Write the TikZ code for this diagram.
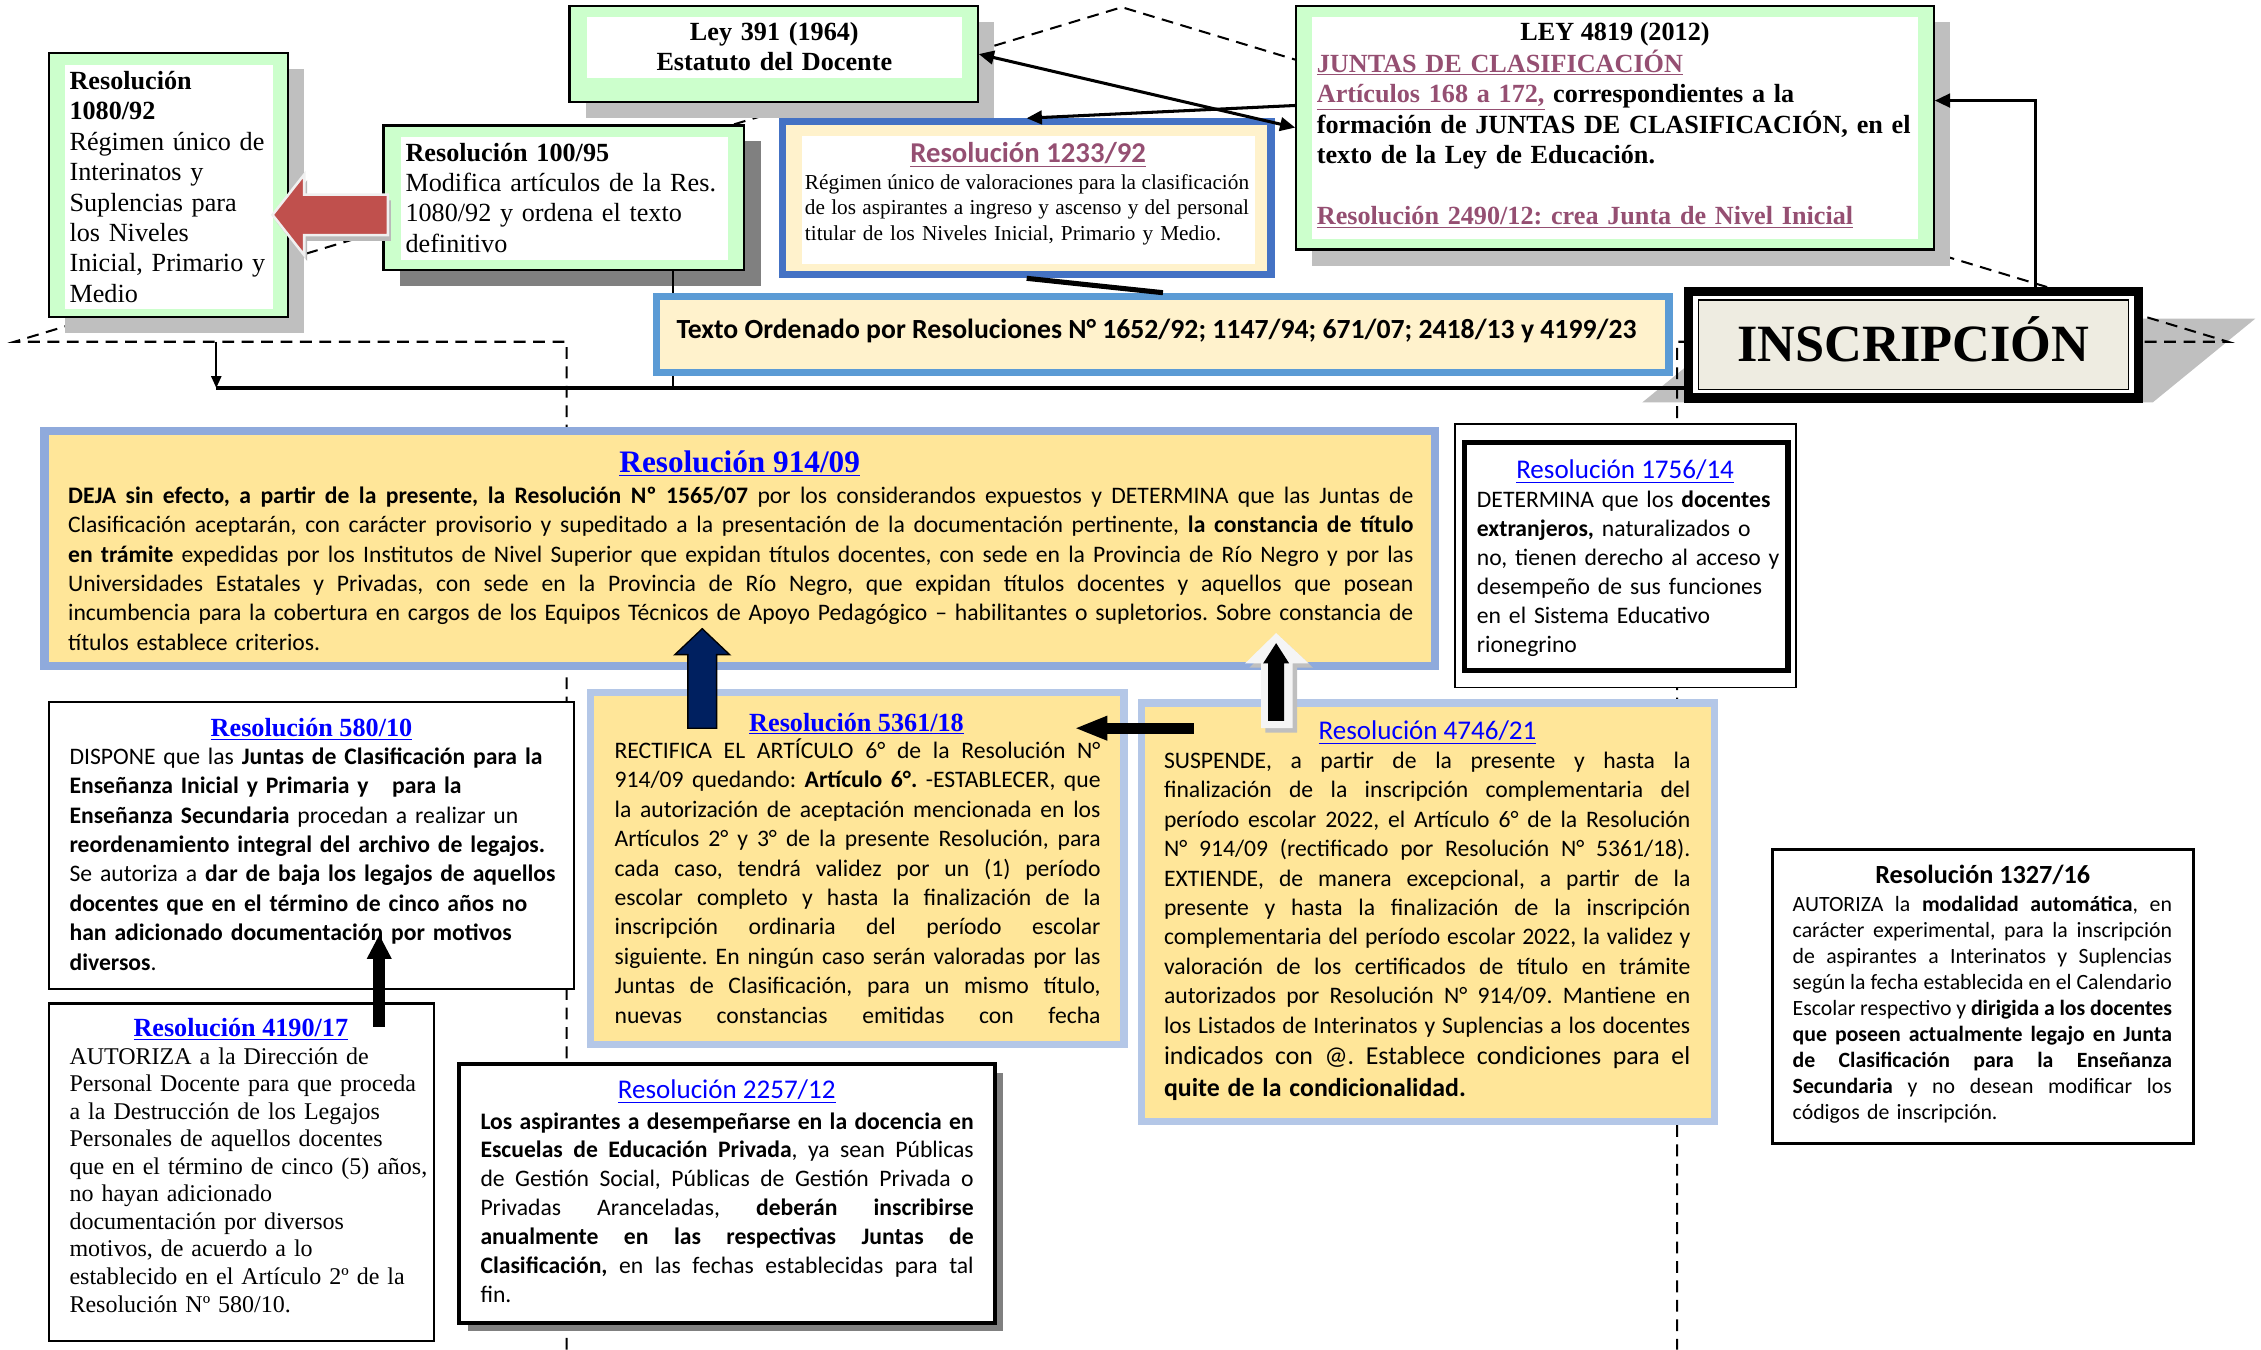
\documentclass[tikz,border=0pt]{standalone}
\usepackage{fontspec}
\setmainfont{Liberation Serif}
\newfontfamily\calibri{Carlito}
\usepackage{tikz}
\usetikzlibrary{calc}
\usetikzlibrary{arrows.meta,shadows}
\usetikzlibrary{fit,positioning}
\usepackage{xcolor}
\definecolor{verdeclaro}{RGB}{204,255,204}
\definecolor{crema}{RGB}{255,242,204}
\definecolor{oro}{RGB}{255,230,153}
\definecolor{celeste}{RGB}{180,199,231}
\definecolor{celesteosc}{RGB}{143,170,220}
\definecolor{azulmarco}{RGB}{68,114,196}
\definecolor{azultexto}{RGB}{91,155,213}
\definecolor{morado}{RGB}{149,79,114}
\definecolor{azul}{RGB}{0,0,255}
\definecolor{marino}{RGB}{0,32,96}
\definecolor{rojo}{RGB}{192,80,77}
\definecolor{beige}{RGB}{238,236,225}
\definecolor{sombra}{RGB}{191,191,191}
\definecolor{sombraosc}{RGB}{128,128,128}
\newcommand{\tam}[2]{\fontsize{#1}{#2}\selectfont}
\newcommand{\renglon}[1]{{\spaceskip=0.23em plus 3em minus 0.08em\xspaceskip=\spaceskip\makebox[\linewidth][s]{#1}}\par}
\newcommand{\enlace}[1]{\textcolor{azul}{\underline{#1}}}
\newcommand{\visto}[1]{\textcolor{morado}{\underline{#1}}}
\setlength{\parindent}{0pt}
\frenchspacing

\begin{document}
\begin{tikzpicture}[x=0.03cm,y=-0.03cm,
    marcoverde/.style={draw=black,line width=1.3pt,fill=verdeclaro,inner sep=0pt},
    interior/.style={fill=white,inner sep=0pt},
    marcooro/.style={draw=celeste,line width=4.3pt,fill=oro,inner sep=0pt},
    marconegro/.style={draw=black,line width=1.4pt,fill=white,inner sep=0pt},
    sombreado/.style={drop shadow={shadow xshift=#1,shadow yshift=-#1,fill=sombra,opacity=1}},
    cuerpo/.style={anchor=base west,inner sep=0pt},
    titulo/.style={anchor=base,inner sep=0pt},
    punteada/.style={dash pattern=on 7pt off 4.5pt,line width=1.2pt},
    conector/.style={line width=1.8pt},
    punta/.style={arrows={-Triangle[length=9pt,width=8pt]}},
    doble/.style={arrows={Triangle[length=9pt,width=8pt]-Triangle[length=9pt,width=8pt]}}]
\useasboundingbox (0,0) rectangle (1568,936);

\coordinate (techo) at (778,5);
\coordinate (aleroI) at (10,237);
\coordinate (aleroD) at (1545,237);
\coordinate (paredI) at (393,237);
\coordinate (paredD) at (1163,237);
\coordinate (suelo) at (0,936);

\fill[sombra] (1139,279) -- (1210,221) -- (1564,221) -- (1493,279) -- cycle;
\draw[punteada] (paredI |- suelo) -- (paredI) -- (aleroI) -- (techo) -- (aleroD) -- (paredD) -- (paredD |- suelo);

\node[marcoverde, sombreado=9.5pt, fit={(34,37) (200,220)}] (r1080) {};
\node[interior, fit={(45,45) (189,214)}] (r1080in) {};
\node[marcoverde, drop shadow={shadow xshift=10pt,shadow yshift=-9.5pt,fill=sombraosc,opacity=1}, fit={(266,87) (516,187)}] (r100) {};
\node[interior, fit={(278,95) (505,180)}] (r100in) {};
\node[marcoverde, sombreado=9.5pt, fit={(395,4) (678,71)}] (ley391) {};
\node[interior, fit={(407,12) (667,54)}] (ley391in) {};
\node[marcoverde, sombreado=9.5pt, fit={(899,4) (1341,173)}] (ley4819) {};
\node[interior, fit={(910,12) (1330,166)}] (ley4819in) {};
\node[draw=azulmarco, line width=4.3pt, fill=crema, inner sep=0pt, fit={(542.5,84.5) (881.5,190.5)}] (r1233) {};
\node[interior, fit={(556,94) (870,183)}] (r1233in) {};

\coordinate (lineaIzq) at (150,269);
\coordinate (bajaIzq) at (150,237);
\coordinate (p100) at ($(r100.south west)!0.8!(r100.south east)$);
\draw[line width=1.3pt] (p100) -- (p100 |- lineaIzq);

\node[draw=azultexto, line width=4.3pt, fill=crema, inner sep=0pt, fit={(455.5,205.5) (1157.5,258.5)}] (texto) {};
\node[titulo, font=\calibri\bfseries\tam{16.4}{18}] (textotxt) at (802,235) {Texto Ordenado por Resoluciones N° 1652/92; 1147/94; 671/07; 2418/13 y 4199/23};
\node[draw=black, line width=5.5pt, fill=white, inner sep=0pt, fit={(1171,202) (1483,276)}] (insc) {};
\node[draw=black, line width=0.9pt, fill=beige, inner sep=0pt, fit={(1178,208) (1476,270)}] (inscin) {};
\node[titulo, font=\bfseries\tam{31}{32}] (insctxt) at (1327,251) {INSCRIPCIÓN};

\draw[line width=2.5pt] (lineaIzq) -- (lineaIzq -| insc.west);
\draw[line width=1.2pt, -{Triangle[length=7pt,width=6pt]}] (bajaIzq) -- (lineaIzq);

\node[cuerpo, font=\tam{15.5}{18}, text width=4.3cm, align=left] (r1080txt) at (48,62) {\textbf{Resolución}\\\textbf{1080/92}\\Régimen único de\\Interinatos y\\Suplencias para\\los Niveles\\Inicial, Primario y\\Medio};
\node[cuerpo, font=\tam{15.5}{17.9}, text width=6.72cm, align=left] (r100txt) at (281,112) {\textbf{Resolución 100/95}\\Modifica artículos de la Res.\\1080/92 y ordena el texto\\definitivo};
\node[titulo, font=\bfseries\tam{15.5}{18}, text width=8cm, align=center] (ley391txt) at (537,28) {Ley 391 (1964)\\Estatuto del Docente};
\node[titulo, font=\bfseries\tam{15.5}{18}] (ley4819tit) at (1120,28) {LEY 4819 (2012)};
\node[cuerpo, font=\bfseries\tam{15.5}{18.1}, text width=12.45cm, align=left] (ley4819txt) at (913,50) {\visto{JUNTAS DE CLASIFICACIÓN}\\
\visto{Artículos 168 a 172,} correspondientes a la\\
formación de JUNTAS DE CLASIFICACIÓN, en el\\
texto de la Ley de Educación.\\[18.1pt]
\visto{Resolución 2490/12: crea Junta de Nivel Inicial}};
\node[titulo, font=\calibri\bfseries\tam{17}{20}] (r1233tit) at (713,113) {\visto{Resolución 1233/92}};
\node[cuerpo, font=\tam{12.6}{15}, text width=9.24cm] (r1233txt) at (558,131.5) {%
\renglon{Régimen único de valoraciones para la clasificación}%
\renglon{de los aspirantes a ingreso y ascenso y del personal}%
titular de los Niveles Inicial, Primario y Medio.};

\draw[line width=3pt] (r1233.south) -- (texto.north);
\draw[conector, punta] ($(ley4819.north west)!0.41!(ley4819.south west)$) -- (r1233.north);
\draw[conector, doble] (ley391.east) -- (ley4819.west);
\coordinate (subeInsc) at ($(insc.north west)!0.765!(insc.north east)$);
\draw[conector, punta] (subeInsc) |- ($(ley4819.north east)!0.39!(ley4819.south east)$);

\node[marcooro, draw=celesteosc, line width=5pt, fit={(31,299) (995,462)}] (r914) {};
\node[titulo, font=\bfseries\tam{18.5}{20}] (r914tit) at (513,328) {\enlace{Resolución 914/09}};
\node[cuerpo, font=\calibri\tam{14}{17.4}, text width=27.99cm] (r914txt) at (47,349) {%
\renglon{\textbf{DEJA sin efecto, a partir de la presente, la Resolución Nº 1565/07} por los considerandos expuestos y DETERMINA que las Juntas de}%
\renglon{Clasificación aceptarán, con carácter provisorio y supeditado a la presentación de la documentación pertinente, \textbf{la constancia de título}}%
\renglon{\textbf{en trámite} expedidas por los Institutos de Nivel Superior que expidan títulos docentes, con sede en la Provincia de Río Negro y por las}%
\renglon{Universidades Estatales y Privadas, con sede en la Provincia de Río Negro, que expidan títulos docentes y aquellos que posean}%
\renglon{incumbencia para la cobertura en cargos de los Equipos Técnicos de Apoyo Pedagógico – habilitantes o supletorios. Sobre constancia de}%
títulos establece criterios.};

\node[draw=black, line width=0.8pt, fill=white, inner sep=0pt, fit={(1009,294) (1245.5,477)}] (r1756) {};
\node[draw=black, line width=3.3pt, inner sep=0pt, fit={(1015.5,307) (1240,465)}] (r1756in) {};
\node[titulo, font=\calibri\tam{16}{18}] (r1756tit) at (1127,332) {\enlace{Resolución 1756/14}};
\node[cuerpo, font=\calibri\tam{14}{17.2}, text width=7cm, align=left] (r1756txt) at (1024,352) {DETERMINA que los \textbf{docentes}\\\textbf{extranjeros,} naturalizados o\\no, tienen derecho al acceso y\\desempeño de sus funciones\\en el Sistema Educativo\\rionegrino};

\node[marconegro, fit={(34,487) (398,686)}] (r580) {};
\node[titulo, font=\bfseries\tam{15.5}{18}] (r580tit) at (216,511) {\enlace{Resolución 580/10}};
\node[cuerpo, font=\calibri\tam{14}{17.4}, text width=10.5cm, align=left] (r580txt) at (48,530) {DISPONE que las \textbf{Juntas de Clasificación para la}\\
\textbf{Enseñanza Inicial y Primaria y\ \ \ para la}\\
\textbf{Enseñanza Secundaria} procedan a realizar un\\
\textbf{reordenamiento integral del archivo de legajos.}\\
Se autoriza a \textbf{dar de baja los legajos de aquellos}\\
\textbf{docentes que en el término de cinco años no}\\
\textbf{han adicionado documentación por motivos}\\
\textbf{diversos}.};

\node[marconegro, fit={(34,696) (301,930)}] (r4190) {};
\node[titulo, font=\bfseries\tam{15.5}{18}] (r4190tit) at (167,719) {\enlace{Resolución 4190/17}};
\node[cuerpo, font=\tam{14.2}{16.3}, text width=7.6cm, align=left] (r4190txt) at (48,738) {AUTORIZA a la Dirección de\\Personal Docente para que proceda\\a la Destrucción de los Legajos\\Personales de aquellos docentes\\que en el término de cinco (5) años,\\no hayan adicionado\\documentación por diversos\\motivos, de acuerdo a lo\\establecido en el Artículo 2º de la\\Resolución Nº 580/10.};

\node[marcooro, fit={(409.5,480.5) (779.5,724.5)}] (r5361) {};
\node[titulo, font=\bfseries\tam{15.5}{18}] (r5361tit) at (594,507) {\enlace{Resolución 5361/18}};
\node[cuerpo, font=\calibri\tam{14}{17.4}, text width=10.11cm] (r5361txt) at (426,526) {%
\renglon{RECTIFICA EL ARTÍCULO 6° de la Resolución N°}%
\renglon{914/09 quedando: \textbf{Artículo 6°.} -ESTABLECER, que}%
\renglon{la autorización de aceptación mencionada en los}%
\renglon{Artículos 2° y 3° de la presente Resolución, para}%
\renglon{cada caso, tendrá validez por un (1) período}%
\renglon{escolar completo y hasta la finalización de la}%
\renglon{inscripción ordinaria del período escolar}%
\renglon{siguiente. En ningún caso serán valoradas por las}%
\renglon{Juntas de Clasificación, para un mismo título,}%
\renglon{nuevas constancias emitidas con fecha}};

\node[draw=black, line width=2.5pt, fill=white, inner sep=0pt, drop shadow={shadow xshift=5pt,shadow yshift=-5pt,fill=sombraosc,opacity=1}, fit={(318.5,738) (690,917.5)}] (r2257) {};
\node[titulo, font=\calibri\tam{16}{18}] (r2257tit) at (504,762) {\enlace{Resolución 2257/12}};
\node[cuerpo, font=\calibri\tam{14}{17.1}, text width=10.26cm] (r2257txt) at (333,783) {%
\renglon{\textbf{Los aspirantes a desempeñarse en la docencia en}}%
\renglon{\textbf{Escuelas de Educación Privada}, ya sean Públicas}%
\renglon{de Gestión Social, Públicas de Gestión Privada o}%
\renglon{Privadas Aranceladas, \textbf{deberán inscribirse}}%
\renglon{\textbf{anualmente en las respectivas Juntas de}}%
\renglon{\textbf{Clasificación,} en las fechas establecidas para tal}%
fin.};

\node[marcooro, fit={(791.5,487.5) (1189,777.5)}] (r4746) {};
\node[titulo, font=\calibri\tam{16}{18}] (r4746tit) at (990,513) {\enlace{Resolución 4746/21}};
\node[cuerpo, font=\calibri\tam{14}{17.4}, text width=10.95cm] (r4746txt) at (807,533) {%
\renglon{SUSPENDE, a partir de la presente y hasta la}%
\renglon{finalización de la inscripción complementaria del}%
\renglon{período escolar 2022, el Artículo 6° de la Resolución}%
\renglon{N° 914/09 (rectificado por Resolución N° 5361/18).}%
\renglon{EXTIENDE, de manera excepcional, a partir de la}%
\renglon{presente y hasta la finalización de la inscripción}%
\renglon{complementaria del período escolar 2022, la validez y}%
\renglon{valoración de los certificados de título en trámite}%
\renglon{autorizados por Resolución N° 914/09. Mantiene en}%
\renglon{los Listados de Interinatos y Suplencias a los docentes}%
{\tam{15.3}{18.8}\renglon{indicados con @. Establece condiciones para el}%
\textbf{quite de la condicionalidad.}\par}};

\node[draw=black, line width=1.7pt, fill=white, inner sep=0pt, fit={(1229,589) (1521,793)}] (r1327) {};
\node[titulo, font=\calibri\bfseries\tam{15.5}{18}] (r1327tit) at (1375,613) {Resolución 1327/16};
\node[cuerpo, font=\calibri\tam{12.9}{15.4}, text width=7.89cm] (r1327txt) at (1243,632) {%
\renglon{AUTORIZA la \textbf{modalidad automática}, en}%
\renglon{carácter experimental, para la inscripción}%
\renglon{de aspirantes a Interinatos y Suplencias}%
\renglon{según la fecha establecida en el Calendario}%
\renglon{Escolar respectivo y \textbf{dirigida a los docentes}}%
\renglon{\textbf{que poseen actualmente legajo en Junta}}%
\renglon{\textbf{de Clasificación para la Enseñanza}}%
\renglon{\textbf{Secundaria} y no desean modificar los}%
códigos de inscripción.};

\coordinate (flechaRoja) at (189,149);
\fill[gray!55] ($(flechaRoja)+(2,4)$) -- ++(22,-28) -- ++(0,14) -- ++(58,0) -- ++(0,28) -- ++(-58,0) -- ++(0,14) -- cycle;
\draw[fill=rojo, draw=gray!12, line width=1.5pt] (flechaRoja) -- ++(22,-28) -- ++(0,14) -- ++(58,0) -- ++(0,28) -- ++(-58,0) -- ++(0,14) -- cycle;

\coordinate (flechaAzul) at (487,436);
\draw[fill=marino, draw=black, line width=0.8pt] (flechaAzul) -- ++(19,18) -- ++(-9,0) -- ++(0,51) -- ++(-20,0) -- ++(0,-51) -- ++(-9,0) -- cycle;

\coordinate (flechaBlanca) at (885,439);
\fill[gray!50] ($(flechaBlanca)+(3,3)$) -- ++(22.5,21) -- ++(-11,0) -- ++(0,45) -- ++(-22,0) -- ++(0,-45) -- ++(-11,0) -- cycle;
\fill[gray!8] (flechaBlanca) -- ++(22.5,21) -- ++(-11,0) -- ++(0,45) -- ++(-22,0) -- ++(0,-45) -- ++(-11,0) -- cycle;
\fill[black] ($(flechaBlanca)+(0,7)$) -- ++(9,14) -- ++(-3.5,0) -- ++(0,40) -- ++(-11,0) -- ++(0,-40) -- ++(-3.5,0) -- cycle;

\coordinate (sale4746) at (828,505);
\coordinate (llega5361) at (745,505);
\draw[line width=6.3pt, -{Triangle[length=19.6pt,width=13.2pt]}] (sale4746) -- (llega5361);
\coordinate (sale4190) at (263,712);
\coordinate (llega580) at (263,648);
\draw[line width=6.8pt, -{Triangle[length=14.5pt,width=13.7pt]}] (sale4190) -- (llega580);
\end{tikzpicture}
\end{document}
